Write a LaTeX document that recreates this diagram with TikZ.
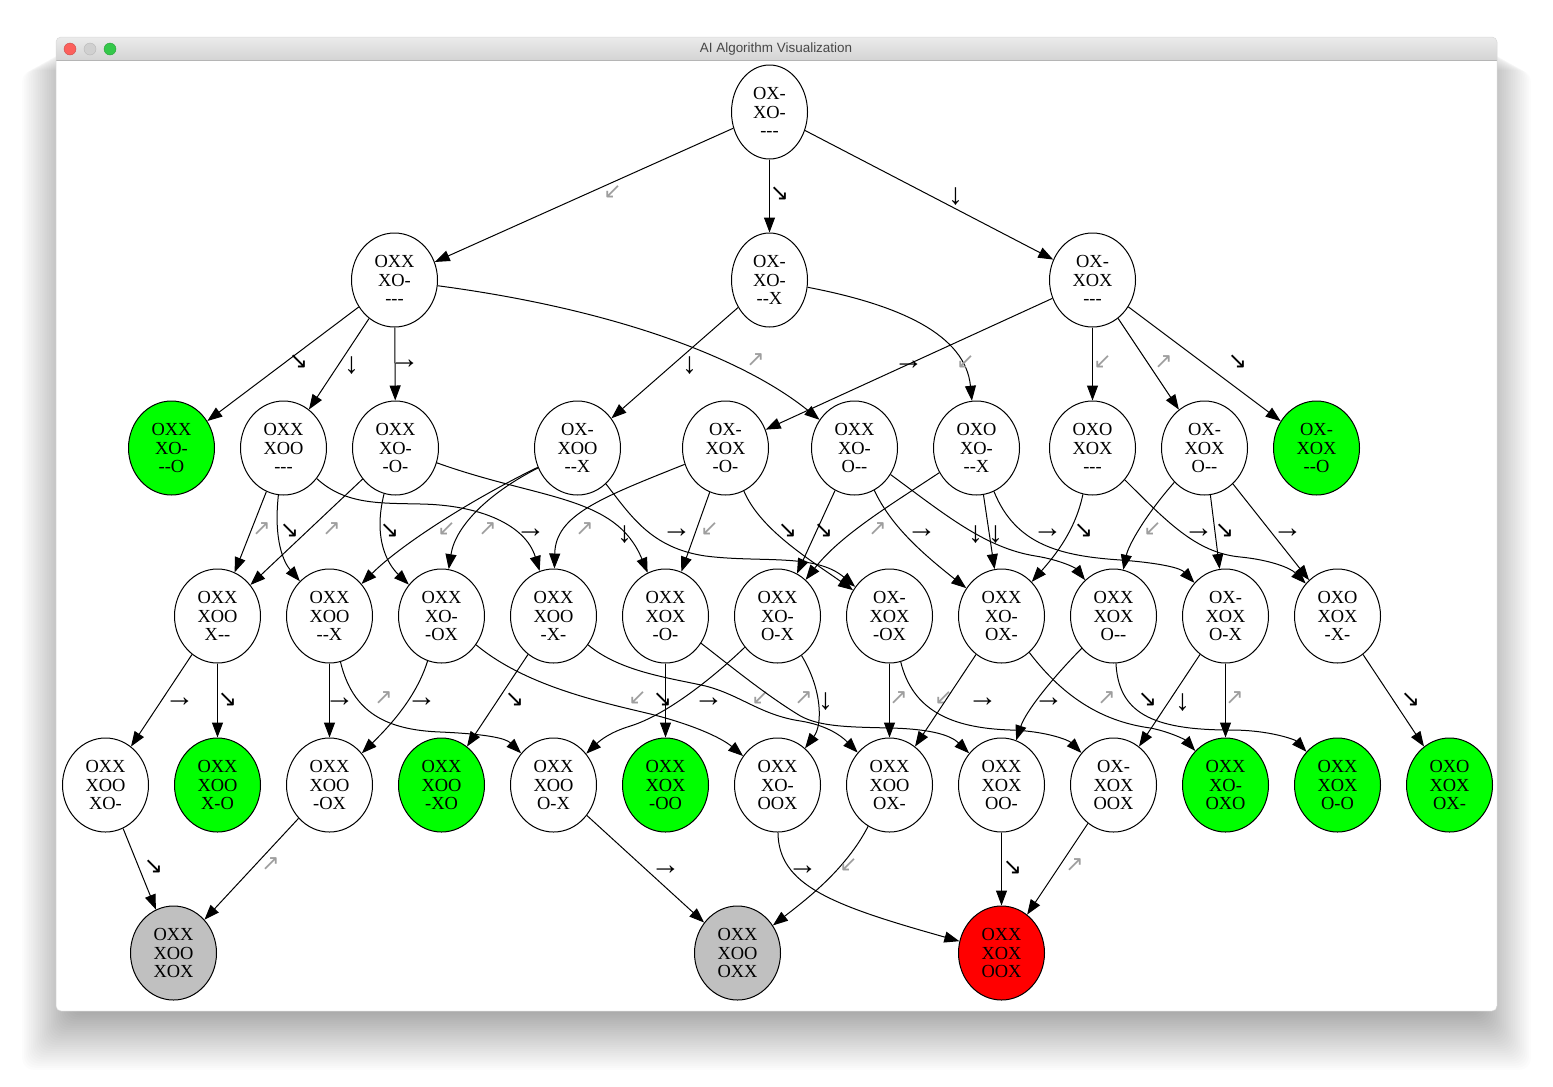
\documentclass[tikz,border=0pt]{standalone}
\usepackage{fontspec}
\newfontfamily\nodefont{Liberation Serif}
\newfontfamily\symfont{DejaVu Sans}
\newfontfamily\uifont{Liberation Sans}
\usetikzlibrary{arrows.meta,shapes.geometric}
\definecolor{winfill}{HTML}{00FF00}
\definecolor{drawfill}{HTML}{C0C0C0}
\definecolor{losefill}{HTML}{FF0000}
\definecolor{titletop}{HTML}{EBEBEB}
\definecolor{titlebot}{HTML}{D4D4D4}
\definecolor{titleline}{HTML}{B5B5B5}
\definecolor{tlred}{HTML}{FC605C}
\definecolor{tlgray}{HTML}{D0D0D0}
\definecolor{tlgreen}{HTML}{34C84A}
\begin{document}
\begin{tikzpicture}[x=1bp,y=-1bp,
  state/.style={ellipse,draw=black,line width=1bp,fill=white,minimum width=86bp,
    minimum height=94bp,inner sep=0pt,align=center,
    font=\nodefont\fontsize{18.5}{18.5}\selectfont},
  narrow/.style={minimum width=76bp},
  win/.style={fill=winfill},
  tie/.style={fill=drawfill},
  lose/.style={fill=losefill},
  link/.style={-{Triangle[length=15bp,width=11bp]},line width=1bp},
  lt/.style={font=\nodefont\fontsize{30}{30}\selectfont,inner sep=0pt},
  ld/.style={font=\symfont\fontsize{23}{23}\selectfont,inner sep=0pt},
  lg/.style={font=\symfont\fontsize{22}{22}\selectfont,inner sep=0pt,text=black!38},
]
\useasboundingbox (0,0) rectangle (1553,1086);
\fill[white] (0,0) rectangle (1553,1086);

% soft window shadow, heavier below than on the sides
\foreach \i in {1,...,30}{
  \fill[black,opacity=0.011,rounded corners=12bp]
    (76-1.8*\i,40+1.0*\i) rectangle (1477+1.8*\i,1007+2.1*\i);
}
% window
\begin{scope}
  \clip[rounded corners=5bp] (56,37) rectangle (1497,1011);
  \fill[white] (56,37) rectangle (1497,1011);
  \shade[top color=titletop,bottom color=titlebot] (56,37) rectangle (1497,60);
  \draw[titleline,line width=0.8bp] (56,60) -- (1497,60);
\end{scope}
\draw[black!15,line width=0.5bp,rounded corners=5bp] (56,37) rectangle (1497,1011);
\fill[tlred,draw=tlred!80!black,line width=0.4bp] (70,49) circle (6bp);
\fill[tlgray,draw=black!28,line width=0.4bp] (90,49) circle (6bp);
\fill[tlgreen,draw=tlgreen!80!black,line width=0.4bp] (110,49) circle (6bp);
\node[font=\uifont\fontsize{13.5}{13.5}\selectfont,text=black!72] (title) at (776,49.5) {AI Algorithm Visualization};

\begin{scope}[shift={(0.5,0)}]
% ---- states ----
\node[state,narrow] (r) at (769,112) {OX-\\XO-\\---};

\node[state] (A1) at (394,280) {OXX\\XO-\\---};
\node[state,narrow] (A2) at (769,280) {OX-\\XO-\\--X};
\node[state] (A3) at (1092,280) {OX-\\XOX\\---};

\node[state,win] (B1) at (171,448) {OXX\\XO-\\--O};
\node[state] (B2) at (283,448) {OXX\\XOO\\---};
\node[state] (B3) at (395,448) {OXX\\XO-\\-O-};
\node[state] (B4) at (577,448) {OX-\\XOO\\--X};
\node[state] (B5) at (725,448) {OX-\\XOX\\-O-};
\node[state] (B6) at (854,448) {OXX\\XO-\\O--};
\node[state] (B7) at (976,448) {OXO\\XO-\\--X};
\node[state] (B8) at (1092,448) {OXO\\XOX\\---};
\node[state] (B9) at (1204,448) {OX-\\XOX\\O--};
\node[state,win] (B10) at (1316,448) {OX-\\XOX\\--O};

\node[state] (C1) at (217,616) {OXX\\XOO\\X--};
\node[state] (C2) at (329,616) {OXX\\XOO\\--X};
\node[state] (C3) at (441,616) {OXX\\XO-\\-OX};
\node[state] (C4) at (553,616) {OXX\\XOO\\-X-};
\node[state] (C5) at (665,616) {OXX\\XOX\\-O-};
\node[state] (C6) at (777,616) {OXX\\XO-\\O-X};
\node[state] (C7) at (889,616) {OX-\\XOX\\-OX};
\node[state] (C8) at (1001,616) {OXX\\XO-\\OX-};
\node[state] (C9) at (1113,616) {OXX\\XOX\\O--};
\node[state] (C10) at (1225,616) {OX-\\XOX\\O-X};
\node[state] (C11) at (1337,616) {OXO\\XOX\\-X-};

\node[state] (D1) at (105,785) {OXX\\XOO\\XO-};
\node[state,win] (D2) at (217,785) {OXX\\XOO\\X-O};
\node[state] (D3) at (329,785) {OXX\\XOO\\-OX};
\node[state,win] (D4) at (441,785) {OXX\\XOO\\-XO};
\node[state] (D5) at (553,785) {OXX\\XOO\\O-X};
\node[state,win] (D6) at (665,785) {OXX\\XOX\\-OO};
\node[state] (D7) at (777,785) {OXX\\XO-\\OOX};
\node[state] (D8) at (889,785) {OXX\\XOO\\OX-};
\node[state] (D9) at (1001,785) {OXX\\XOX\\OO-};
\node[state] (D10) at (1113,785) {OX-\\XOX\\OOX};
\node[state,win] (D11) at (1225,785) {OXX\\XO-\\OXO};
\node[state,win] (D12) at (1337,785) {OXX\\XOX\\O-O};
\node[state,win] (D13) at (1449,785) {OXO\\XOX\\OX-};

\node[state,tie] (E1) at (173,953) {OXX\\XOO\\XOX};
\node[state,tie] (E2) at (737,953) {OXX\\XOO\\OXX};
\node[state,lose] (E3) at (1001,953) {OXX\\XOX\\OOX};

% ---- moves: first level ----
\draw[link] (r) -- (A1) node[lg] at (612,192) {↙};
\draw[link] (r) -- (A2) node[ld] at (779,194) {↘};
\draw[link] (r) -- (A3) node[lt] at (955,197) {↓};

% ---- second level ----
\draw[link] (A1) -- (B1) node[ld] at (298,362) {↘};
\draw[link] (A1) -- (B2) node[lt] at (351,366) {↓};
\draw[link] (A1) -- (B3) node[lt] at (404,364) {→};
\draw[link] (A1) .. controls (620,310) and (745,360) .. (B6) node[lg] at (755,360) {↗};
\draw[link] (A2) -- (B4) node[lt] at (689,366) {↓};
\draw[link] (A2) .. controls (900,305) and (965,335) .. (B7) node[lg] at (965,362) {↙};
\draw[link] (A3) -- (B5) node[lt] at (908,365) {→};
\draw[link] (A3) -- (B8) node[lg] at (1102,362) {↙};
\draw[link] (A3) -- (B9) node[lg] at (1163,362) {↗};
\draw[link] (A3) -- (B10) node[ld] at (1237,362) {↘};

% ---- third level ----
\draw[link] (B2) -- (C1) node[lg] at (261,529) {↗};
\draw[link] (B2) .. controls (273,540) and (283,562) .. (C2) node[ld] at (289,531) {↘};
\draw[link] (B3) -- (C1) node[lg] at (331,529) {↗};
\draw[link] (B3) .. controls (372,540) and (388,565) .. (C3) node[ld] at (389,531) {↘};
\draw[link] (B4) .. controls (470,500) and (400,545) .. (C2) node[lg] at (446,529) {↙};
\draw[link] (B4) .. controls (490,492) and (455,525) .. (C3) node[lg] at (487,529) {↗};
\draw[link] (B2) .. controls (345,505) and (380,503) .. (420,504)
  .. controls (480,505) and (525,525) .. (C4) node[lt] at (530,533) {→};
\draw[link] (B5) .. controls (600,498) and (555,515) .. (C4) node[lg] at (584,529) {↗};
\draw[link] (B3) .. controls (540,500) and (615,495) .. (C5) node[lt] at (624,535) {↓};
\draw[link] (B4) .. controls (630,515) and (650,548) .. (705,556)
  .. controls (760,563) and (815,553) .. (C7) node[lt] at (676,533) {→};
\draw[link] (B5) -- (C5) node[lg] at (709,529) {↙};
\draw[link] (B5) .. controls (760,530) and (810,560) .. (C7) node[ld] at (787,531) {↘};
\draw[link] (B6) -- (C6) node[ld] at (823,531) {↘};
\draw[link] (B7) .. controls (890,505) and (840,535) .. (C6) node[lg] at (877,529) {↗};
\draw[link] (B6) .. controls (890,525) and (920,552) .. (C8) node[lt] at (921,533) {→};
\draw[link] (B6) .. controls (945,515) and (985,548) .. (1035,556)
  .. controls (1060,560) and (1075,568) .. (C9) node[lt] at (975,535) {↓};
\draw[link] (B7) -- (C8) node[lt] at (995,535) {↓};
\draw[link] (B7) .. controls (1015,545) and (1060,556) .. (1120,560)
  .. controls (1160,563) and (1180,568) .. (C10) node[lt] at (1047,533) {→};
\draw[link] (B8) .. controls (1075,530) and (1055,555) .. (C8) node[ld] at (1083,531) {↘};
\draw[link] (B8) .. controls (1165,520) and (1195,553) .. (1240,557)
  .. controls (1270,560) and (1290,568) .. (C11) node[lt] at (1198,533) {→};
\draw[link] (B9) .. controls (1145,515) and (1128,545) .. (C9) node[lg] at (1152,529) {↙};
\draw[link] (B9) -- (C10) node[ld] at (1224,531) {↘};
\draw[link] (B9) -- (C11) node[lt] at (1287,533) {→};

% ---- fourth level ----
\draw[link] (C1) -- (D1) node[lt] at (179,702) {→};
\draw[link] (C1) -- (D2) node[ld] at (227,700) {↘};
\draw[link] (C2) -- (D3) node[lt] at (339,702) {→};
\draw[link] (C2) .. controls (352,712) and (385,730) .. (440,732)
  .. controls (485,734) and (505,738) .. (D5) node[lg] at (383,698) {↗};
\draw[link] (C3) .. controls (415,700) and (385,730) .. (D3) node[lt] at (421,702) {→};
\draw[link] (C4) -- (D4) node[ld] at (514,700) {↘};
\draw[link] (C3) .. controls (525,686) and (600,702) .. (650,714)
  .. controls (690,724) and (720,737) .. (D7) node[lg] at (637,698) {↙};
\draw[link] (C5) -- (D6) node[ld] at (662,700) {↘};
\draw[link] (C6) .. controls (710,680) and (665,715) .. (630,726)
  .. controls (610,732) and (600,740) .. (D5) node[lt] at (708,702) {→};
\draw[link] (C4) .. controls (620,672) and (670,678) .. (705,686)
  .. controls (740,695) and (760,715) .. (800,721)
  .. controls (825,725) and (840,735) .. (D8) node[lg] at (760,698) {↙};
\draw[link] (C5) .. controls (725,662) and (765,695) .. (800,716)
  .. controls (820,727) and (850,727) .. (890,728)
  .. controls (930,729) and (950,735) .. (D9) node[lg] at (803,698) {↗};
\draw[link] (C6) .. controls (822,690) and (822,725) .. (D7) node[lt] at (825,702) {↓};
\draw[link] (C7) -- (D8) node[lg] at (898,698) {↗};
\draw[link] (C7) .. controls (912,710) and (950,728) .. (1010,730)
  .. controls (1045,731) and (1068,740) .. (D10) node[lg] at (943,698) {↙};
\draw[link] (C8) -- (D8) node[lt] at (982,702) {→};
\draw[link] (C9) .. controls (1050,680) and (1025,712) .. (D9) node[lt] at (1048,702) {→};
\draw[link] (C8) .. controls (1065,700) and (1105,722) .. (1150,728)
  .. controls (1170,732) and (1185,740) .. (D11) node[lg] at (1106,698) {↗};
\draw[link] (C9) .. controls (1118,712) and (1150,730) .. (1230,730)
  .. controls (1270,730) and (1295,740) .. (D12) node[ld] at (1147,700) {↘};
\draw[link] (C10) -- (D10) node[lt] at (1182,703) {↓};
\draw[link] (C10) -- (D11) node[lg] at (1234,698) {↗};
\draw[link] (C11) -- (D13) node[ld] at (1410,700) {↘};

% ---- last level ----
\draw[link] (D1) -- (E1) node[ld] at (153,867) {↘};
\draw[link] (D3) -- (E1) node[lg] at (270,864) {↗};
\draw[link] (D5) -- (E2) node[lt] at (665,870) {→};
\draw[link] (D8) .. controls (845,870) and (805,900) .. (E2) node[lg] at (848,865) {↙};
\draw[link] (D7) .. controls (778,885) and (830,905) .. (E3) node[lt] at (802,870) {→};
\draw[link] (D9) -- (E3) node[ld] at (1012,868) {↘};
\draw[link] (D10) -- (E3) node[lg] at (1074,865) {↗};
\end{scope}
\end{tikzpicture}
\end{document}
